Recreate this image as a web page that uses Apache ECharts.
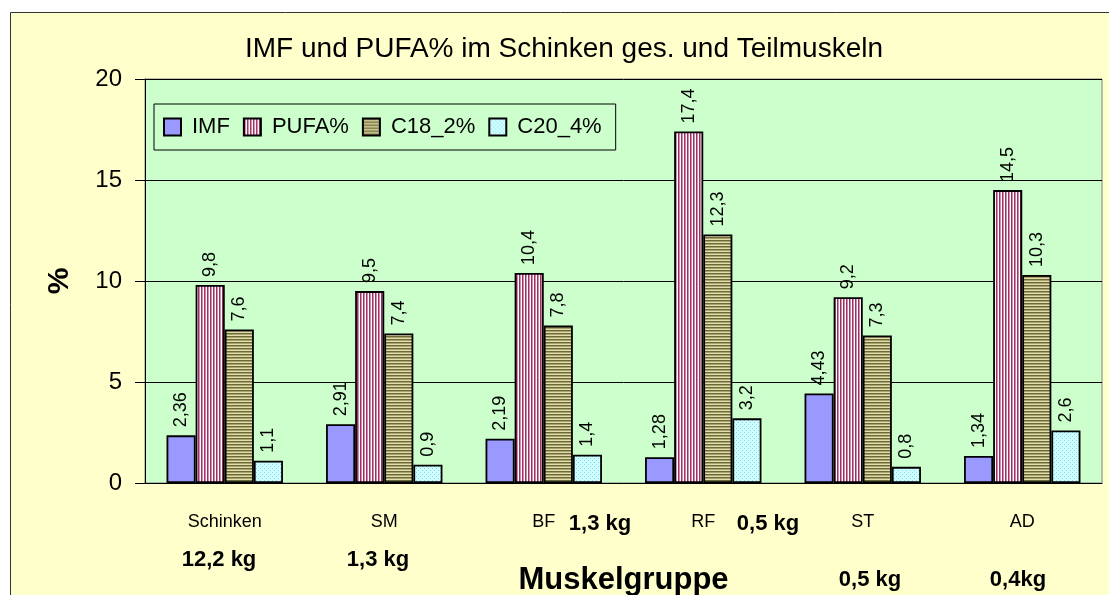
<!DOCTYPE html>
<html>
<head>
<meta charset="utf-8">
<script src="https://cdn.jsdelivr.net/npm/echarts@6/dist/echarts.min.js"></script>
<style>
  html, body { margin: 0; padding: 0; background: #fff; }
  #chart { width: 1109px; height: 595px; }
</style>
</head>
<body>
<div id="chart"></div>
<script>
// ---------------------------------------------------------------------------
// Data
// ---------------------------------------------------------------------------
const categories = ["Schinken", "SM", "BF", "RF", "ST", "AD"];
const seriesNames = ["IMF", "PUFA%", "C18_2%", "C20_4%"];
const imf   = [2.36, 2.91, 2.19, 1.28, 4.43, 1.34];
const pufa  = [9.8, 9.5, 10.4, 17.4, 9.2, 14.5];
const c18_2 = [7.6, 7.4, 7.8, 12.3, 7.3, 10.3];
const c20_4 = [1.1, 0.9, 1.4, 3.2, 0.8, 2.6];
const yMax = 20, yStep = 5;
const weightNotes = ["12,2 kg", "1,3 kg", "1,3 kg", "0,5 kg", "0,5 kg", "0,4kg"];

// ---------------------------------------------------------------------------
// Styles
// ---------------------------------------------------------------------------
const NARROW = "'Liberation Sans Narrow', 'Arial Narrow', 'Liberation Sans', Arial, sans-serif";
const REG    = "'Liberation Sans', Arial, sans-serif";

// where the hand-placed weight notes sit (x center, y center)
const notePos = [[219, 560], [378, 560], [600, 524], [768, 524], [870, 580], [1018, 580]];

function pattern(w, h, draw) {
  const c = document.createElement("canvas");
  c.width = w; c.height = h;
  draw(c.getContext("2d"));
  return { image: c, repeat: "repeat" };
}

const fills = [
  "#9999FF",
  pattern(3, 3, (g) => {           // vertical stripes
    g.fillStyle = "#ffffff"; g.fillRect(0, 0, 3, 3);
    g.fillStyle = "#993366"; g.fillRect(0, 0, 1, 3);
    g.fillStyle = "#d48aac"; g.fillRect(1, 0, 1, 3);
  }),
  pattern(3, 3, (g) => {           // horizontal stripes
    g.fillStyle = "#e2dcae"; g.fillRect(0, 0, 3, 3);
    g.fillStyle = "#6b6b38"; g.fillRect(0, 0, 3, 1);
    g.fillStyle = "#a8a26c"; g.fillRect(0, 1, 3, 1);
  }),
  pattern(4, 4, (g) => {           // dotted
    g.fillStyle = "#CCFFFF"; g.fillRect(0, 0, 4, 4);
    g.fillStyle = "#9cccE4"; g.fillRect(0, 0, 1, 1); g.fillRect(2, 2, 1, 1);
  }),
];

const chart = echarts.init(document.getElementById("chart"), null, { renderer: "canvas" });

const seriesData = [imf, pufa, c18_2, c20_4];

const option = {
  animation: false,
  backgroundColor: "#ffffff",
  title: {
    text: "IMF und PUFA% im Schinken ges. und Teilmuskeln",
    left: 245, top: 35, padding: 0,
    textStyle: { fontFamily: REG, fontSize: 28, fontWeight: "normal", color: "#000" },
  },
  legend: {
    left: 154, top: 104,
    padding: [12, 14, 12, 9],
    itemGap: 13, itemWidth: 17, itemHeight: 17,
    borderColor: "#000", borderWidth: 1,
    icon: "rect",
    data: seriesNames,
    textStyle: { fontFamily: NARROW, fontSize: 22, color: "#000", padding: [0, 0, 0, 6] },
  },
  grid: {
    left: 145, right: 7, top: 79, bottom: 112,
    outerBoundsMode: "none",
    show: true, backgroundColor: "#CCFFCC", borderColor: "#808080", borderWidth: 1,
  },
  xAxis: {
    type: "category",
    data: categories,
    name: "Muskelgruppe",
    nameLocation: "middle",
    nameGap: 82,
    nameTextStyle: { fontFamily: REG, fontSize: 31, fontWeight: "bold", color: "#000" },
    axisLine: { lineStyle: { color: "#000", width: 1 } },
    axisTick: { length: 6, lineStyle: { color: "#000" } },
    axisLabel: { margin: 30, fontFamily: NARROW, fontSize: 18, color: "#000" },
  },
  yAxis: {
    type: "value",
    min: 0, max: yMax, interval: yStep,
    name: "%",
    nameLocation: "middle",
    nameRotate: 90,
    nameGap: 70,
    nameTextStyle: { fontFamily: REG, fontSize: 30, fontWeight: "bold", color: "#000" },
    axisLine: { show: true, lineStyle: { color: "#000", width: 1 } },
    axisTick: { show: true, length: 10, lineStyle: { color: "#000" } },
    axisLabel: { margin: 23, fontFamily: NARROW, fontSize: 24, color: "#000" },
    splitLine: { lineStyle: { color: "#000", width: 1 } },
  },
  series: seriesNames.map((name, i) => ({
    name,
    type: "bar",
    data: seriesData[i],
    barGap: 0,
    barCategoryGap: "27%",
    itemStyle: { color: fills[i], borderColor: "#000", borderWidth: 1.8 },
    label: {
      show: true,
      position: "top",
      rotate: 90,
      align: "left",
      verticalAlign: "middle",
      distance: 8,
      fontFamily: NARROW,
      fontSize: 18,
      color: "#000",
      formatter: (p) => String(p.value).replace(".", ","),
    },
  })),
  graphic: [
    {
      type: "rect", z: -100, silent: true,
      shape: { x: 10.5, y: 12.5, width: 1120, height: 620 },
      style: { fill: "#FFFFCC", stroke: "#333", lineWidth: 1 },
    },
    ...weightNotes.map((t, i) => ({
      type: "text",
      x: notePos[i][0], y: notePos[i][1],
      style: {
        text: t, align: "center", verticalAlign: "middle",
        font: `bold 22px ${NARROW}`, fill: "#000",
      },
    })),
  ],
};

chart.setOption(option);
</script>
</body>
</html>
